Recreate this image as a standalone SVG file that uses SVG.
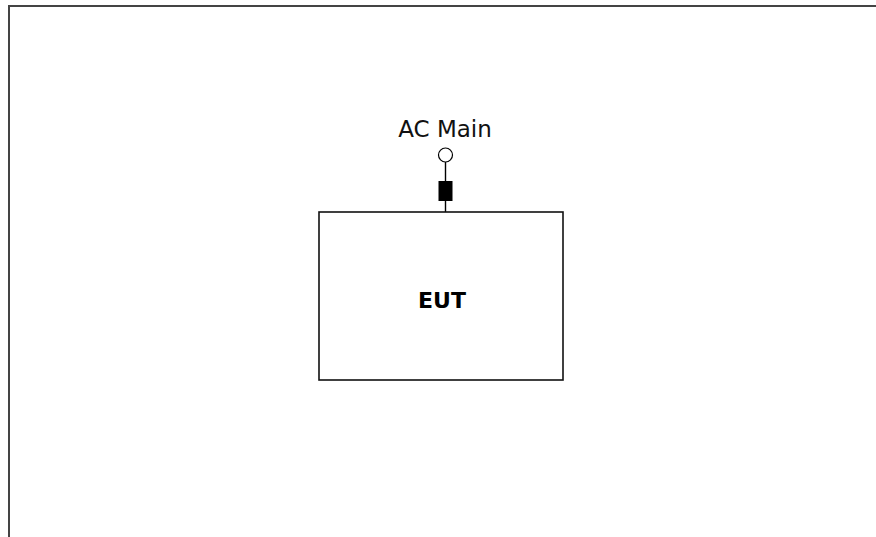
<svg xmlns="http://www.w3.org/2000/svg" width="876" height="537" viewBox="0 0 876 537">
  <style>
    .frame { stroke: #444; stroke-width: 2; fill: none; }
    .box { fill: #fff; stroke: #111; stroke-width: 1.6; }
    .wire { stroke: #000; stroke-width: 1.4; fill: none; }
    .label { font-family: "DejaVu Sans", "Liberation Sans", sans-serif; font-size: 23px; fill: #111; }
    .title { font-family: "DejaVu Sans", "Liberation Sans", sans-serif; font-size: 22px; font-weight: bold; fill: #000; }
  </style>
  <rect width="876" height="537" fill="#fff"/>
  <!-- sheet border -->
  <path class="frame" d="M9 537 V6 H876"/>

  <g id="connectors">
    <line class="wire" x1="445.5" y1="162" x2="445.5" y2="212"/>
  </g>

  <g id="eut">
    <rect class="box" x="319" y="212" width="244" height="168"/>
    <text class="title" x="442" y="308" text-anchor="middle">EUT</text>
  </g>

  <g id="port">
    <rect x="438.5" y="181" width="14" height="20" fill="#000"/>
  </g>

  <g id="ac-main">
    <circle cx="445.5" cy="155" r="7" fill="#fff" stroke="#000" stroke-width="1.2"/>
    <text class="label" x="445" y="137" text-anchor="middle">AC Main</text>
  </g>
</svg>
